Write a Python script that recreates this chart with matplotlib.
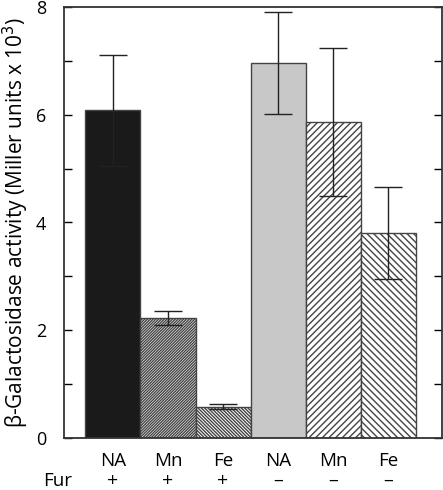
import matplotlib
matplotlib.use("Agg")
import matplotlib.pyplot as plt
import numpy as np

# values
metals = ["NA", "Mn", "Fe", "NA", "Mn", "Fe"]
fur = ["+", "+", "+", "\u2013", "\u2013", "\u2013"]
activity = [6.08, 2.23, 0.58, 6.96, 5.87, 3.81]
errors = [1.03, 0.13, 0.05, 0.95, 1.37, 0.85]

colors = ["#1a1a1a", "white", "white", "#c8c8c8", "white", "white"]
hatches = [None, "/" * 12, "\\" * 10, None, "/" * 5, "\\" * 5]

plt.rcParams["font.family"] = ["Open Sans", "DejaVu Sans"]
plt.rcParams["hatch.linewidth"] = 1.0
plt.rcParams["hatch.color"] = "#222222"

fig = plt.figure(figsize=(4.43, 4.90), dpi=100)
ax = fig.add_axes([64 / 443, 52 / 490, 378 / 443, 431 / 490])

x = np.arange(len(activity))
for i in x:
    ax.bar(i, activity[i], width=1.0, color=colors[i], hatch=hatches[i],
           edgecolor="#444444", linewidth=1.0, zorder=2)
ax.errorbar(x, activity, yerr=errors, fmt="none", ecolor="#222222",
            elinewidth=1.0, capsize=10, capthick=1.0, zorder=3)

ax.set_xlim(-0.89, 5.98)
ax.set_ylim(0, 8)
ax.set_yticks(np.arange(0, 9, 1))
ax.set_yticklabels([str(v) if v % 2 == 0 else "" for v in range(9)], fontsize=13)
ax.tick_params(axis="y", direction="in", length=6, width=1, right=True, pad=13)
ax.set_xticks([])
for s in ax.spines.values():
    s.set_linewidth(1.3)
    s.set_color("#333333")

ax.set_ylabel("\u03b2-Galactosidase activity (Miller units x 10$^3$)", fontsize=15, labelpad=3)

for i in x:
    ax.text(i, -0.43, metals[i], ha="center", va="center", fontsize=13.5)
    ax.text(i, -0.80, fur[i], ha="center", va="center", fontsize=14)
fig.text(58 / 443, 1 - 481 / 490, "Fur", ha="center", va="center", fontsize=13.5)

fig.savefig("out.png", dpi=100)
